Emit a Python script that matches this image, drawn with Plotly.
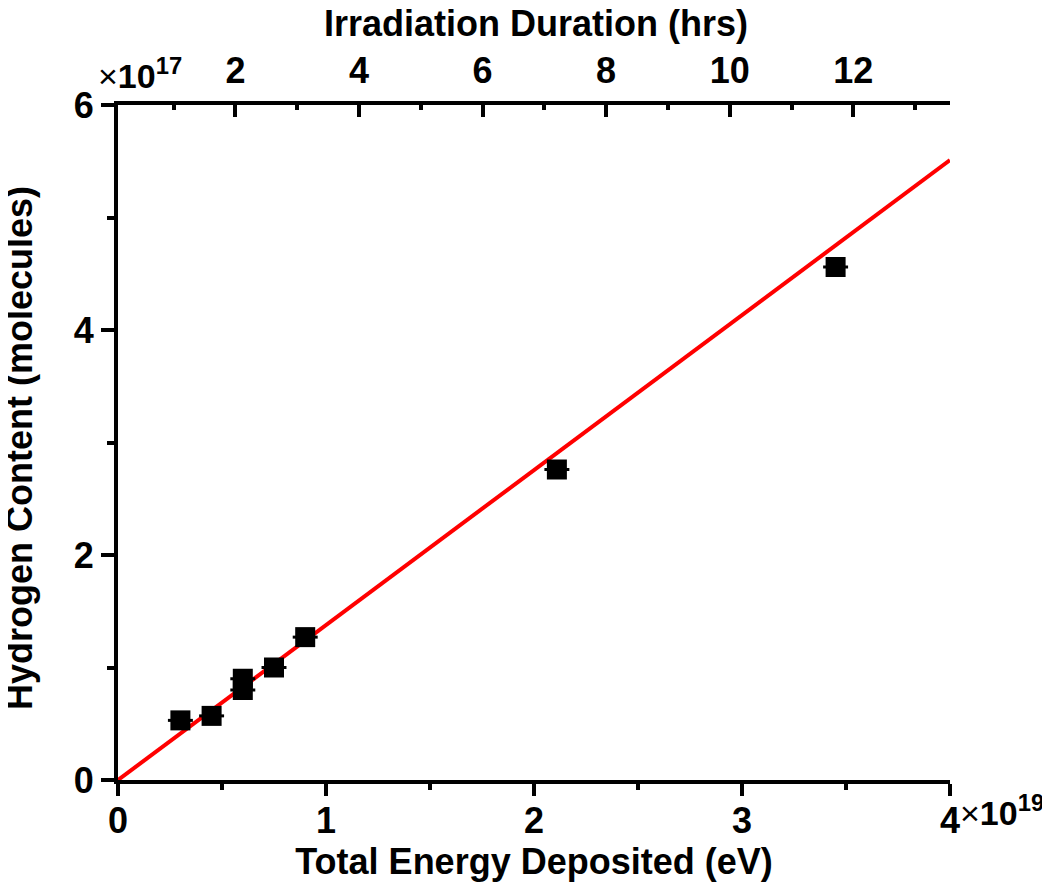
import plotly.graph_objects as go

# Data (energy in units of 1e19 eV, hydrogen content in units of 1e17 molecules)
energy = [0.30, 0.45, 0.60, 0.60, 0.75, 0.90, 2.11, 3.45]
hydrogen = [0.53, 0.57, 0.90, 0.80, 1.00, 1.27, 2.76, 4.56]
energy_err = [0.06, 0.06, 0.06, 0.06, 0.06, 0.06, 0.06, 0.06]

fit_x = [0.0, 4.0]
fit_y = [0.0, 5.51]

# Top axis (irradiation duration, hrs) range matching the energy axis
hours_range = [0.10, 13.565]
hour_ticks = [2, 4, 6, 8, 10, 12]

x_title = "Total Energy Deposited (eV)"
y_title = "Hydrogen Content (molecules)"
top_title = "Irradiation Duration (hrs)"

FONT = "Arial, Liberation Sans, sans-serif"
FS = 36

fig = go.Figure()
fig.add_trace(go.Scatter(
    x=fit_x, y=fit_y, mode="lines",
    line=dict(color="#ff0000", width=4), showlegend=False, hoverinfo="skip"))
fig.add_trace(go.Scatter(
    x=energy, y=hydrogen, mode="markers",
    marker=dict(symbol="square", size=20, color="black", line=dict(width=0)),
    error_x=dict(type="data", array=energy_err, color="black", thickness=3, width=0),
    showlegend=False))
# invisible trace to anchor the top axis
fig.add_trace(go.Scatter(x=hours_range, y=[None, None], xaxis="x2", yaxis="y",
                         mode="markers", showlegend=False, hoverinfo="skip"))

tickfont = dict(family=FONT, size=FS, color="black", weight="bold")
titlefont = dict(family=FONT, size=FS, color="black", weight="bold")

fig.update_layout(
    template="none",
    width=1050, height=879,
    margin=dict(l=110, r=108, t=97, b=107),
    paper_bgcolor="white", plot_bgcolor="white",
    xaxis=dict(
        automargin=False,
        range=[0, 4], tickmode="array", tickvals=[0, 1, 2, 3, 4],
        ticktext=["0", "1", "2", "3", "4"],
        ticks="outside", ticklen=12, tickwidth=4, tickcolor="black",
        minor=dict(dtick=0.5, tick0=0, ticks="outside", ticklen=6, tickwidth=4, tickcolor="black"),
        showline=True, linewidth=4, linecolor="black", showgrid=False, zeroline=False,
        tickfont=tickfont, ticklabelstandoff=-6,
        title=dict(text=x_title, font=titlefont, standoff=3),
    ),
    yaxis=dict(
        automargin=False,
        range=[0, 6], tickmode="array", tickvals=[0, 2, 4, 6],
        ticktext=["0", "2", "4", "6"],
        ticks="outside", ticklen=13, tickwidth=4, tickcolor="black",
        minor=dict(dtick=1, tick0=0, ticks="outside", ticklen=7, tickwidth=4, tickcolor="black"),
        showline=True, linewidth=4, linecolor="black", showgrid=False, zeroline=False,
        tickfont=tickfont,
    ),
    xaxis2=dict(
        automargin=False,
        overlaying="x", side="top", anchor="y", range=hours_range,
        tickmode="array", tickvals=hour_ticks, ticktext=[str(h) for h in hour_ticks],
        ticks="inside", ticklen=12, tickwidth=4, tickcolor="black",
        minor=dict(dtick=1, tick0=0, ticks="inside", ticklen=5, tickwidth=4, tickcolor="black"),
        showline=True, linewidth=4, linecolor="black", showgrid=False, zeroline=False,
        tickfont=tickfont, ticklabelstandoff=4,
    ),
    yaxis2=dict(
        automargin=False,
        overlaying="y", side="right", anchor="x", range=[0, 6],
        tickmode="array", tickvals=[2, 4], showticklabels=False,
        ticks="inside", ticklen=11, tickwidth=4, tickcolor="black",
        minor=dict(dtick=1, tick0=0, ticks="inside", ticklen=5, tickwidth=4, tickcolor="black"),
        showline=True, linewidth=4, linecolor="black", showgrid=False, zeroline=False,
    ),
)

# Axis titles placed as annotations for precise positioning
fig.add_annotation(text=y_title, textangle=-90, xref="paper", yref="paper",
                   x=(19 - 118) / 832, y=(780 - 448) / 675, xanchor="center", yanchor="middle",
                   showarrow=False, font=titlefont)
fig.add_annotation(text=top_title, xref="paper", yref="paper",
                   x=(536 - 118) / 832, y=(780 - 24) / 675, xanchor="center", yanchor="middle",
                   showarrow=False, font=titlefont)

fig.add_annotation(text="<span style='font-weight:normal'>×</span>10<sup>17</sup>",
                   xref="paper", yref="paper",
                   x=(96 - 118) / 832, y=(780 - 97) / 675, xanchor="left", yanchor="bottom",
                   showarrow=False, font=dict(family=FONT, size=34, color="black", weight="bold"))
fig.add_annotation(text="<span style='font-weight:normal'>×</span>10<sup>19</sup>",
                   xref="paper", yref="paper",
                   x=(958 - 118) / 832, y=(780 - 787) / 675, xanchor="left", yanchor="top",
                   showarrow=False, font=dict(family=FONT, size=34, color="black", weight="bold"))

fig.write_html("out.html")
